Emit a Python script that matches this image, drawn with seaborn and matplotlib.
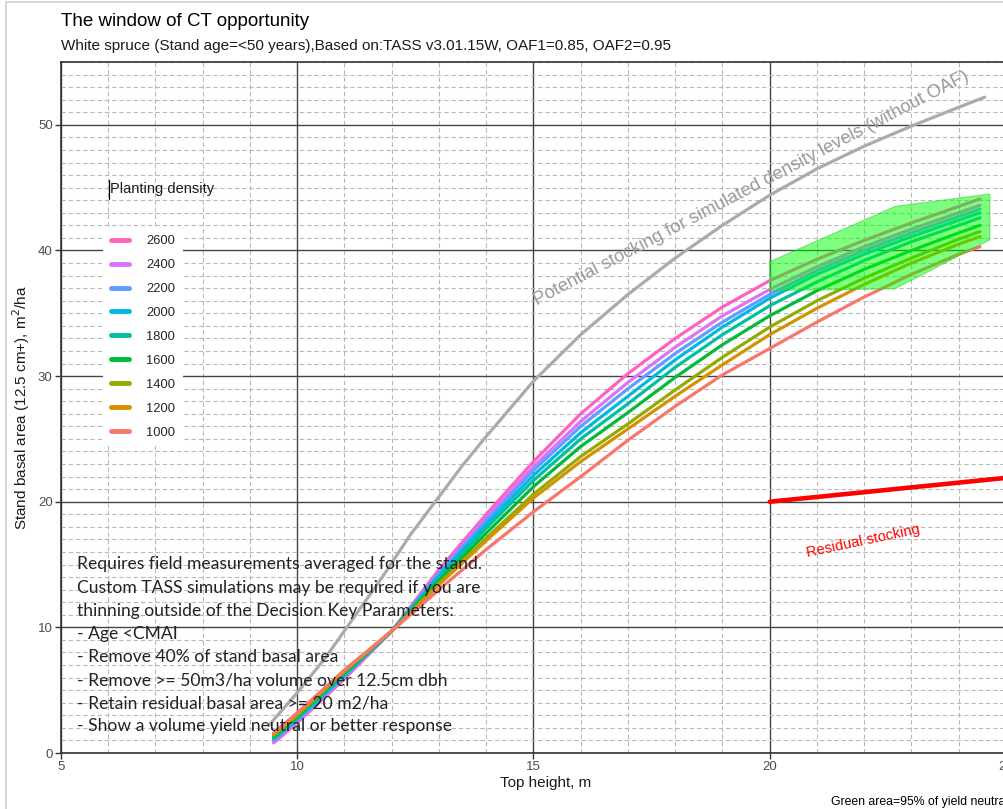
import matplotlib
matplotlib.use("Agg")
import matplotlib.ticker as mticker
import pandas as pd
import seaborn as sns
from matplotlib import pyplot as plt
from matplotlib.lines import Line2D
from matplotlib.patches import Polygon, Rectangle

# top height (m) where the density curves were read
heights = [9.5, 10, 11, 12, 13, 14, 15, 16, 17, 18, 19, 20, 21, 22, 23, 24, 24.45]

ba_2600 = [0.8, 2.4, 5.9, 9.7, 14.6, 19.0, 23.2, 27.0, 30.2, 33.0, 35.5, 37.6, 39.3, 40.8, 42.2, 43.5, 44.1]
ba_2400 = [0.9, 2.5, 6.0, 9.7, 14.4, 18.7, 22.8, 26.4, 29.5, 32.3, 34.8, 36.9, 38.7, 40.3, 41.7, 43.0, 43.6]
ba_2200 = [1.0, 2.6, 6.1, 9.7, 14.3, 18.5, 22.5, 26.0, 29.0, 31.8, 34.3, 36.5, 38.4, 40.0, 41.4, 42.7, 43.3]
ba_2000 = [1.1, 2.7, 6.2, 9.7, 14.1, 18.2, 22.1, 25.5, 28.4, 31.3, 33.9, 36.2, 38.1, 39.7, 41.1, 42.4, 43.0]
ba_1800 = [1.2, 2.8, 6.3, 9.7, 13.9, 17.9, 21.7, 25.0, 27.8, 30.7, 33.3, 35.6, 37.5, 39.2, 40.7, 42.0, 42.6]
ba_1600 = [1.3, 2.9, 6.4, 9.7, 13.7, 17.5, 21.2, 24.4, 27.1, 29.9, 32.5, 34.8, 36.8, 38.5, 40.0, 41.4, 42.0]
ba_1400 = [1.4, 3.0, 6.5, 9.7, 13.5, 17.1, 20.6, 23.6, 26.2, 28.9, 31.5, 33.9, 36.0, 37.8, 39.4, 40.9, 41.5]
ba_1200 = [1.5, 3.1, 6.6, 9.7, 13.4, 16.9, 20.3, 23.2, 25.8, 28.4, 30.9, 33.3, 35.4, 37.3, 39.0, 40.5, 41.1]
ba_1000 = [1.6, 3.2, 6.6, 9.7, 13.0, 16.2, 19.2, 22.0, 24.9, 27.6, 30.1, 32.2, 34.3, 36.3, 38.1, 39.7, 40.3]

densities = ['2600', '2400', '2200', '2000', '1800', '1600', '1400', '1200', '1000']
density_colors = ['#FF61C3', '#DB72FB', '#619CFF', '#00B9E3', '#00C19F',
                  '#00BA38', '#93AA00', '#D39200', '#F8766D']

# potential stocking without OAF
pot_heights = [9.4, 10, 10.6, 11.2, 11.8, 12.4, 13, 13.5, 14, 15, 16, 17, 18, 19, 20, 21, 22, 23, 24, 24.55]
pot_ba = [2.2, 4.8, 7.6, 10.8, 14.0, 17.4, 20.4, 22.9, 25.2, 29.6, 33.3, 36.5, 39.4, 42.0, 44.4, 46.5, 48.3, 49.9, 51.4, 52.2]

# residual stocking line
res_heights = [20, 25]
res_ba = [20.0, 21.9]

# green area (95% of yield neutral)
green_heights = [20, 22.65, 24.66, 24.66, 22.65, 20]
green_ba = [39.1, 43.5, 44.5, 40.85, 36.95, 36.8]

notes = ["Requires field measurements averaged for the stand.",
         "Custom TASS simulations may be required if you are",
         "thinning outside of the Decision Key Parameters:",
         "- Age <CMAI",
         "- Remove 40% of stand basal area",
         "- Remove >= 50m3/ha volume over 12.5cm dbh",
         "- Retain residual basal area >= 20 m2/ha",
         "- Show a volume yield neutral or better response"]

all_ba = [ba_2600, ba_2400, ba_2200, ba_2000, ba_1800, ba_1600, ba_1400, ba_1200, ba_1000]
df = pd.concat([pd.DataFrame({'height': heights, 'ba': vals, 'density': d})
                for d, vals in zip(densities, all_ba)], ignore_index=True)
pot_df = pd.DataFrame({'height': pot_heights, 'ba': pot_ba})

sns.set_theme(style='white')
plt.rcParams['font.family'] = ['Liberation Sans', 'DejaVu Sans']

fig = plt.figure(figsize=(10.04, 8.09), dpi=100)
W, H = 1004, 809
x0, x1, y0, y1 = 61, 1029.6, 753, 62
ax = fig.add_axes([x0 / W, 1 - y0 / H, (x1 - x0) / W, (y0 - y1) / H])

ax.set_xlim(5, 25.5)
ax.set_ylim(0, 55)
ax.xaxis.set_major_locator(mticker.MultipleLocator(5))
ax.xaxis.set_minor_locator(mticker.MultipleLocator(1))
ax.yaxis.set_major_locator(mticker.MultipleLocator(10))
ax.yaxis.set_minor_locator(mticker.MultipleLocator(1))
ax.grid(which='minor', color='#b8b8b8', lw=0.8, ls=(0, (4, 2.5)))
ax.grid(which='major', color='#444444', lw=1.0, ls='-')
ax.set_axisbelow(True)
for sp in ax.spines.values():
    sp.set_color('#333333')
    sp.set_linewidth(1.2)
ax.tick_params(which='major', direction='out', length=4, width=1, color='#333333',
               labelsize=9.5, labelcolor='#4d4d4d', pad=2, bottom=True, left=True)

sns.lineplot(data=pot_df, x='height', y='ba', color='#ababab', lw=2.3, ax=ax, zorder=3)
sns.lineplot(data=df, x='height', y='ba', hue='density', hue_order=densities,
             palette=dict(zip(densities, density_colors)), lw=2.3, ax=ax, zorder=3)
sns.lineplot(x=res_heights, y=res_ba, color='red', lw=3.3, ax=ax, zorder=3)

ax.add_patch(Polygon(list(zip(green_heights, green_ba)), closed=True, facecolor='#00ff00',
                     alpha=0.5, edgecolor='#22cc22', lw=0.8, zorder=4))

leg = ax.legend(loc='upper left', bbox_to_anchor=(0.037, 0.77), frameon=True,
                facecolor='white', edgecolor='none', framealpha=1, fontsize=9.3,
                handlelength=1.4, handletextpad=1.3, labelspacing=0.92, borderpad=0.6)
for h in leg.get_lines():
    h.set_linewidth(3.5)
ax.text(6.04, 44.9, 'Planting density', fontsize=10.5, color='#1a1a1a', va='center', ha='left')
fig.add_artist(Line2D([109 / W, 109 / W], [1 - 180 / H, 1 - 199 / H], color='black', lw=0.9))

ax.set_xlabel('Top height, m', fontsize=11, color='#1a1a1a', labelpad=2)
ax.set_ylabel('Stand basal area (12.5 cm+), m$^2$/ha', fontsize=11, color='#1a1a1a', labelpad=4)

ax.text(15.07, 35.6, 'Potential stocking for simulated density levels (without OAF)',
        rotation=27.6, rotation_mode='anchor', ha='left', va='baseline',
        fontsize=13.2, color='#9a9a9a', zorder=5)
ax.text(20.79, 15.6, 'Residual stocking', rotation=12, rotation_mode='anchor',
        ha='left', va='baseline', fontsize=10.5, color='red', zorder=5)

ax.text(5.34, 15.65, '\n'.join(notes), ha='left', va='top', fontsize=12.6,
        family=['Lato', 'DejaVu Sans'], color='#222222', linespacing=1.55, zorder=6)

fig.text(61 / W, 1 - 21 / H, 'The window of CT opportunity', fontsize=13.5, color='black', va='center')
fig.text(61 / W, 1 - 46 / H, 'White spruce (Stand age=<50 years),Based on:TASS v3.01.15W, OAF1=0.85, OAF2=0.95',
         fontsize=11, color='#1a1a1a', va='center')
fig.text(831 / W, 1 - 802 / H, 'Green area=95% of yield neutral response', fontsize=8.8,
         color='black', va='center')

fig.add_artist(Rectangle((5.5 / W, -0.01), 1.02, 1 - 1.5 / H + 0.01, transform=fig.transFigure,
                         fill=False, edgecolor='#cccccc', lw=1.2))

fig.savefig('out.png', dpi=100)
